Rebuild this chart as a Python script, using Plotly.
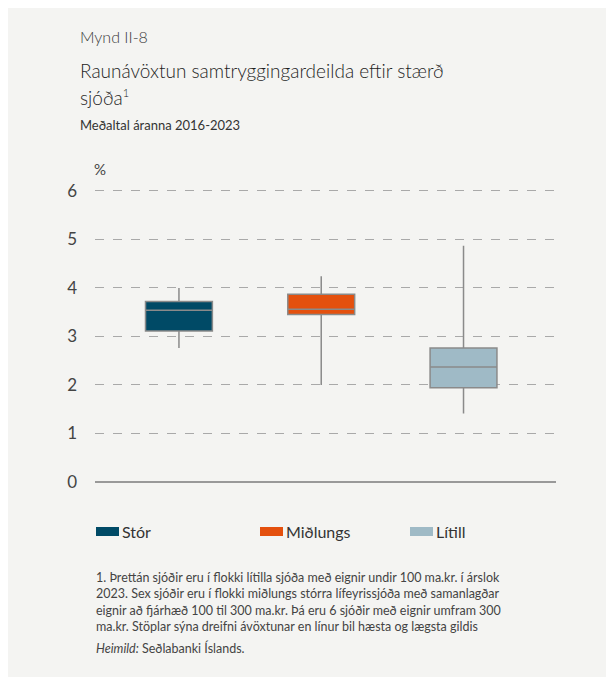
import plotly.graph_objects as go

# ---- data ----
categories = ["Stór", "Miðlungs", "Lítill"]
q1 = [3.11, 3.45, 1.94]
median = [3.54, 3.56, 2.37]
q3 = [3.72, 3.87, 2.76]
low = [2.76, 2.00, 1.41]
high = [4.00, 4.24, 4.87]
colors = ["#004a66", "#e4500e", "#9fbac6"]
y_ticks = [0, 1, 2, 3, 4, 5, 6]

OFF = 8  # browser body margin
W, H = 614 - OFF, 677 - OFF
L, R, T, B = 95 - OFF, 58, 178, 195
pw, ph = W - L - R, H - T - B


def px(x):
    return (x - OFF - L) / pw


def py(y):
    return (H - B - (y - OFF)) / ph


FONT = "Lato"
TXT = "#333333"

fig = go.Figure()
for i, c in enumerate(categories):
    fig.add_trace(go.Box(
        x=[c], q1=[q1[i]], median=[median[i]], q3=[q3[i]],
        lowerfence=[low[i]], upperfence=[high[i]],
        fillcolor=colors[i], line=dict(color="#8a8a8a", width=1.5),
        whiskerwidth=0, width=0.47, name=c, showlegend=False,
        hoverinfo="skip",
    ))

shapes = []
annotations = []


def txt(text, x, y, size, color=TXT, xanchor="left", align="left", weight=400):
    annotations.append(dict(text=text, x=px(x), y=py(y), xref="paper", yref="paper",
                            xanchor=xanchor, yanchor="middle", showarrow=False,
                            align=align,
                            font=dict(family=FONT, size=size, color=color, weight=weight)))


txt("Mynd II-8", 78, 36, 16, "#3a3a3a", weight=300)
txt("Raunávöxtun samtryggingardeilda eftir stærð", 78, 70, 19, "#1e1e1e", weight=300)
txt("sjóða<sup><span style='font-size:11px'>1</span></sup>", 78, 97, 19, "#1e1e1e", weight=300)
txt("Meðaltal áranna 2016-2023", 78, 125, 13)
txt("%", 100, 169, 15, "#444444", xanchor="center")

leg_x = [96, 260, 410]
for i, c in enumerate(categories):
    shapes.append(dict(type="rect", xref="paper", yref="paper",
                       x0=px(leg_x[i]), x1=px(leg_x[i] + 23), y0=py(536), y1=py(527),
                       fillcolor=colors[i], line=dict(width=0)))
    txt(c, leg_x[i] + 24, 531, 16)

foot = ("1. Þrettán sjóðir eru í flokki lítilla sjóða með eignir undir 100 ma.kr. í árslok<br>"
        "2023. Sex sjóðir eru í flokki miðlungs stórra lífeyrissjóða með samanlagðar<br>"
        "eignir að fjárhæð 100 til 300 ma.kr. Þá eru 6 sjóðir með eignir umfram 300<br>"
        "ma.kr. Stöplar sýna dreifni ávöxtunar en línur bil hæsta og lægsta gildis")
txt(foot, 94, 601.5, 12.5, "#444444")
txt("<i>Heimild:</i> Seðlabanki Íslands.", 94, 648, 12.5, "#444444")

fig.update_layout(
    width=W, height=H, margin=dict(l=L, r=R, t=T, b=B),
    paper_bgcolor="#f4f4f2", plot_bgcolor="rgba(0,0,0,0)",
    showlegend=False, shapes=shapes, annotations=annotations,
    font=dict(family=FONT, color=TXT),
    xaxis=dict(type="category", categoryorder="array", categoryarray=categories,
               range=[-0.59, 2.65], showticklabels=False, showgrid=False,
               zeroline=False, showline=False, fixedrange=True),
    yaxis=dict(range=[0, 6.1], tickvals=y_ticks, showgrid=True,
               gridcolor="#a9a9a9", griddash="dash", gridwidth=1,
               zeroline=True, zerolinecolor="#999999", zerolinewidth=1.5,
               showline=False, ticks="", ticklabelstandoff=17,
               tickfont=dict(family=FONT, size=17, color="#444444"), fixedrange=True),
)

fig.write_html("out.html")
